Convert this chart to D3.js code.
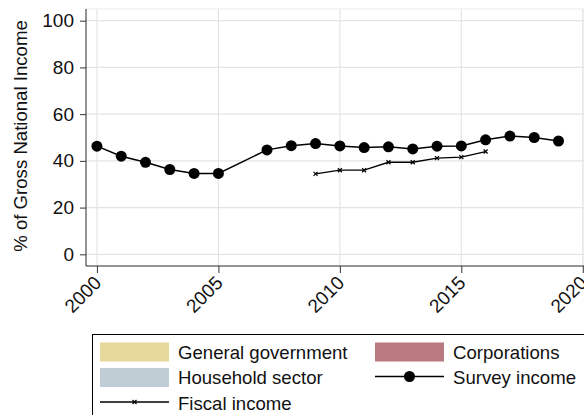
<!DOCTYPE html>
<html><head><meta charset="utf-8">
<script src="https://cdn.jsdelivr.net/npm/d3@7"></script>
<style>
html,body{margin:0;padding:0;background:#fff;}
svg{display:block;font-family:"Liberation Sans",Arial,Helvetica,sans-serif;}
</style></head>
<body>
<svg id="c" width="584" height="415"></svg>
<script>
const surveyYears = [2000,2001,2002,2003,2004,2005,2007,2008,2009,2010,2011,2012,2013,2014,2015,2016,2017,2018,2019];
const surveyValues = [46.3,42.0,39.4,36.3,34.6,34.6,44.7,46.5,47.4,46.4,45.7,46.0,45.1,46.3,46.4,49.0,50.6,50.0,48.5];
const fiscalYears = [2009,2010,2011,2012,2013,2014,2015,2016];
const fiscalValues = [34.4,36.0,36.0,39.4,39.4,41.2,41.6,44.0];
const xTicks = [2000,2005,2010,2015,2020];
const yTicks = [0,20,40,60,80,100];
const yTitle = "% of Gross National Income";
const legendLabels = ["General government","Corporations","Household sector","Survey income","Fiscal income"];
const legendColors = {"General government":"#e6d89a","Corporations":"#b87a7e","Household sector":"#c1cdd5"};

const svg = d3.select("#c");
const L=86, R=584, T=9, B=266;
const x = d3.scaleLinear().domain([1999.55,2020.05]).range([L,R]);
const y = d3.scaleLinear().domain([-5,105]).range([B,T]);

// plot region outline + grid
svg.append("rect").attr("x",L).attr("y",T).attr("width",R-L).attr("height",B-T)
  .attr("fill","none").attr("stroke","#eaeaea").attr("stroke-width",1);
svg.append("g").selectAll("line").data(yTicks).join("line")
  .attr("x1",L).attr("x2",R).attr("y1",d=>y(d)).attr("y2",d=>y(d))
  .attr("stroke","#e4e4e4").attr("stroke-width",1.2);
svg.append("g").selectAll("line").data(xTicks).join("line")
  .attr("x1",d=>x(d)).attr("x2",d=>x(d)).attr("y1",T).attr("y2",B)
  .attr("stroke","#e4e4e4").attr("stroke-width",1.2);

// axes
const yAx = svg.append("g").attr("transform",`translate(${L},0)`)
  .call(d3.axisLeft(y).tickValues(yTicks).tickSize(6).tickPadding(6).tickFormat(d3.format("d")));
yAx.select(".domain").attr("d",`M0,${T}V${B}`).attr("stroke","#333");
yAx.selectAll(".tick line").attr("stroke","#333");
yAx.selectAll("text").attr("font-size",19).attr("fill","#111").attr("font-family","Liberation Sans,Arial,sans-serif");

const xAx = svg.append("g").attr("transform",`translate(0,${B})`)
  .call(d3.axisBottom(x).tickValues(xTicks).tickSize(7).tickFormat(d3.format("d")));
xAx.select(".domain").attr("d",`M${L},0H${R}`).attr("stroke","#333");
xAx.selectAll(".tick line").attr("stroke","#333");
xAx.selectAll("text").attr("font-size",19).attr("fill","#111")
  .attr("font-family","Liberation Sans,Arial,sans-serif")
  .attr("text-anchor","end").attr("dy",null).attr("y",0)
  .attr("transform","translate(5,18) rotate(-45)");

svg.append("text").attr("transform",`translate(27,136) rotate(-90)`)
  .attr("text-anchor","middle").attr("font-size",18.6).attr("fill","#111").text(yTitle);

// lines
const line = d3.line().x(d=>x(d[0])).y(d=>y(d[1]));
const sData = surveyYears.map((d,i)=>[d,surveyValues[i]]);
const fData = fiscalYears.map((d,i)=>[d,fiscalValues[i]]);
svg.append("path").attr("d",line(sData)).attr("fill","none").attr("stroke","#000").attr("stroke-width",1.5);
svg.append("g").selectAll("circle").data(sData).join("circle")
  .attr("cx",d=>x(d[0])).attr("cy",d=>y(d[1])).attr("r",5.5).attr("fill","#000");
svg.append("path").attr("d",line(fData)).attr("fill","none").attr("stroke","#000").attr("stroke-width",1.3);
const xm = (px,py,s)=>`M${px-s},${py-s}L${px+s},${py+s}M${px-s},${py+s}L${px+s},${py-s}`;
svg.append("g").selectAll("path").data(fData).join("path")
  .attr("d",d=>xm(x(d[0]),y(d[1]),2)).attr("stroke","#000").attr("stroke-width",1.2);

// legend
const lg = svg.append("g");
lg.append("rect").attr("x",92.5).attr("y",334.5).attr("width",500).attr("height",100)
  .attr("fill","#fff").attr("stroke","#000").attr("stroke-width",1);
const pos = [[100,352],[375,352],[100,377.5],[375,377.5],[100,403]];
legendLabels.forEach((lab,i)=>{
  const [px,py]=pos[i];
  if(legendColors[lab]){
    lg.append("rect").attr("x",px).attr("y",py-9.5).attr("width",69).attr("height",19).attr("fill",legendColors[lab]);
  } else {
    lg.append("line").attr("x1",px).attr("x2",px+69).attr("y1",py-1).attr("y2",py-1).attr("stroke","#000").attr("stroke-width",1.4);
    if(lab==="Survey income"){
      lg.append("circle").attr("cx",px+34.5).attr("cy",py-1).attr("r",5.5).attr("fill","#000");
    } else {
      lg.append("path").attr("d",xm(px+34.5,py-1,2)).attr("stroke","#000").attr("stroke-width",1.2);
    }
  }
  lg.append("text").attr("x",px+78).attr("y",py+6.5).attr("font-size",18.6).attr("fill","#111").text(lab);
});
</script>
</body></html>
